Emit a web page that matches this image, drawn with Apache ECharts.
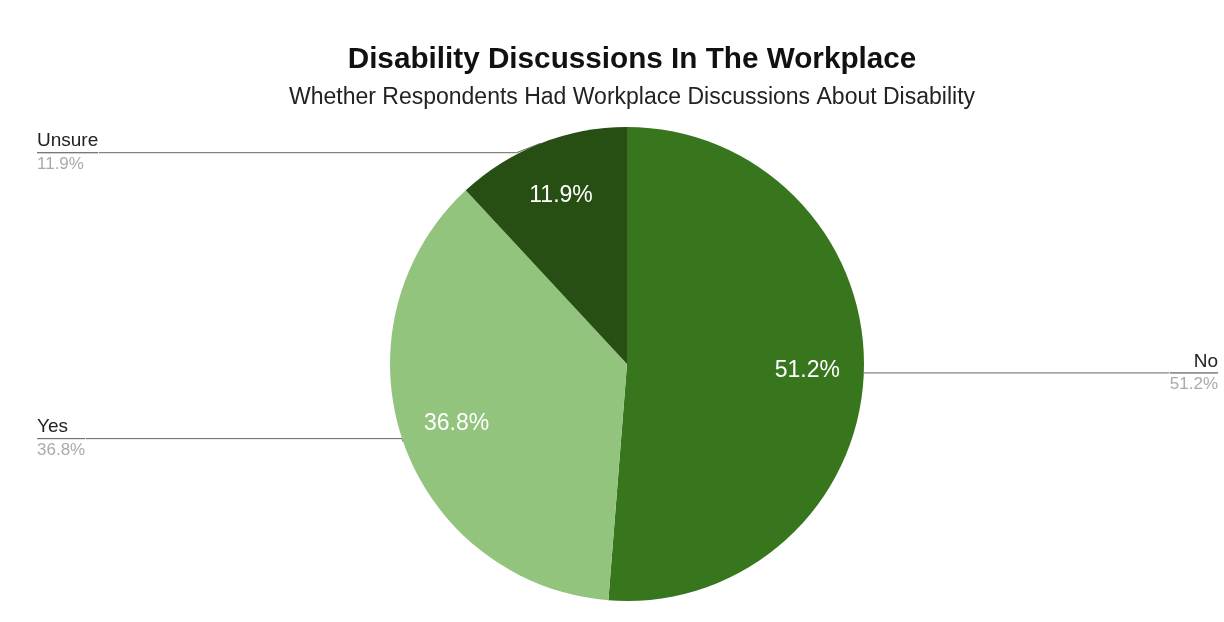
<!DOCTYPE html>
<html>
<head>
<meta charset="utf-8">
<script src="https://cdn.jsdelivr.net/npm/echarts@6/dist/echarts.min.js"></script>
<style>
  html, body { margin: 0; padding: 0; background: #fff; }
  #chart { width: 1224px; height: 622px; }
</style>
</head>
<body>
<div id="chart"></div>
<script>
// data
var answers = ['No', 'Yes', 'Unsure']
var shares = [51.2, 36.8, 11.9]
var sliceColors = ['#38761d', '#93c47d', '#274e13']

var chart = echarts.init(document.getElementById('chart'))

var pieData = answers.map(function (name, i) {
	return { name: name, value: shares[i], itemStyle: { color: sliceColors[i] } }
})

var option = {
	animation: false,
	textStyle: { fontFamily: "'Liberation Sans', Arial, sans-serif" },
	title: {
		text: 'Disability Discussions In The Workplace',
		subtext: 'Whether Respondents Had Workplace Discussions About Disability',
		left: 627,   // centred over the pie, not the canvas
		textAlign: 'center',
		top: 40,
		itemGap: 11,
		textStyle: { fontSize: 29.7, fontWeight: 'bold', color: '#111' },
		subtextStyle: { fontSize: 23, color: '#222' }
	},
	series: [
		{
			// full pie with the outside labels
			type: 'pie',
			left: 31, right: 0, top: 0, bottom: 0,
			center: [596, 364],
			radius: 237,
			startAngle: 90,
			clockwise: true,
			silent: true,
			itemStyle: { borderWidth: 0 },
			data: pieData,
			label: {
				position: 'outer',
				alignTo: 'edge',
				edgeDistance: 6,
				distanceToLabelLine: 0,
				formatter: '{name|{b}}\n{hr|}\n{pct|{c}%}',
				rich: {
					name: { fontSize: 19, color: '#222', lineHeight: 23 },
					hr: { width: '100%', height: 0, borderWidth: 0.8, borderColor: '#666' },
					pct: { fontSize: 17, color: '#aaa', lineHeight: 23 }
				}
			},
			labelLine: {
				show: true,
				length: -10,
				length2: 0,
				lineStyle: { color: '#666', width: 1 }
			}
		},
		{
			// invisible ring only for the percent labels inside the slices
			type: 'pie',
			left: 31, right: 0, top: 0, bottom: 0,
			center: [596, 364],
			radius: [118, 237],
			startAngle: 90,
			clockwise: true,
			silent: true,
			itemStyle: { color: 'rgba(0,0,0,0)', borderWidth: 0 },
			data: answers.map(function (name, i) { return { name: name, value: shares[i] } }),
			label: {
				position: 'inside',
				formatter: '{c}%',
				fontSize: 23,
				color: '#fff'
			},
			labelLine: { show: false }
		}
	]
}
chart.setOption(option)
</script>
</body>
</html>
